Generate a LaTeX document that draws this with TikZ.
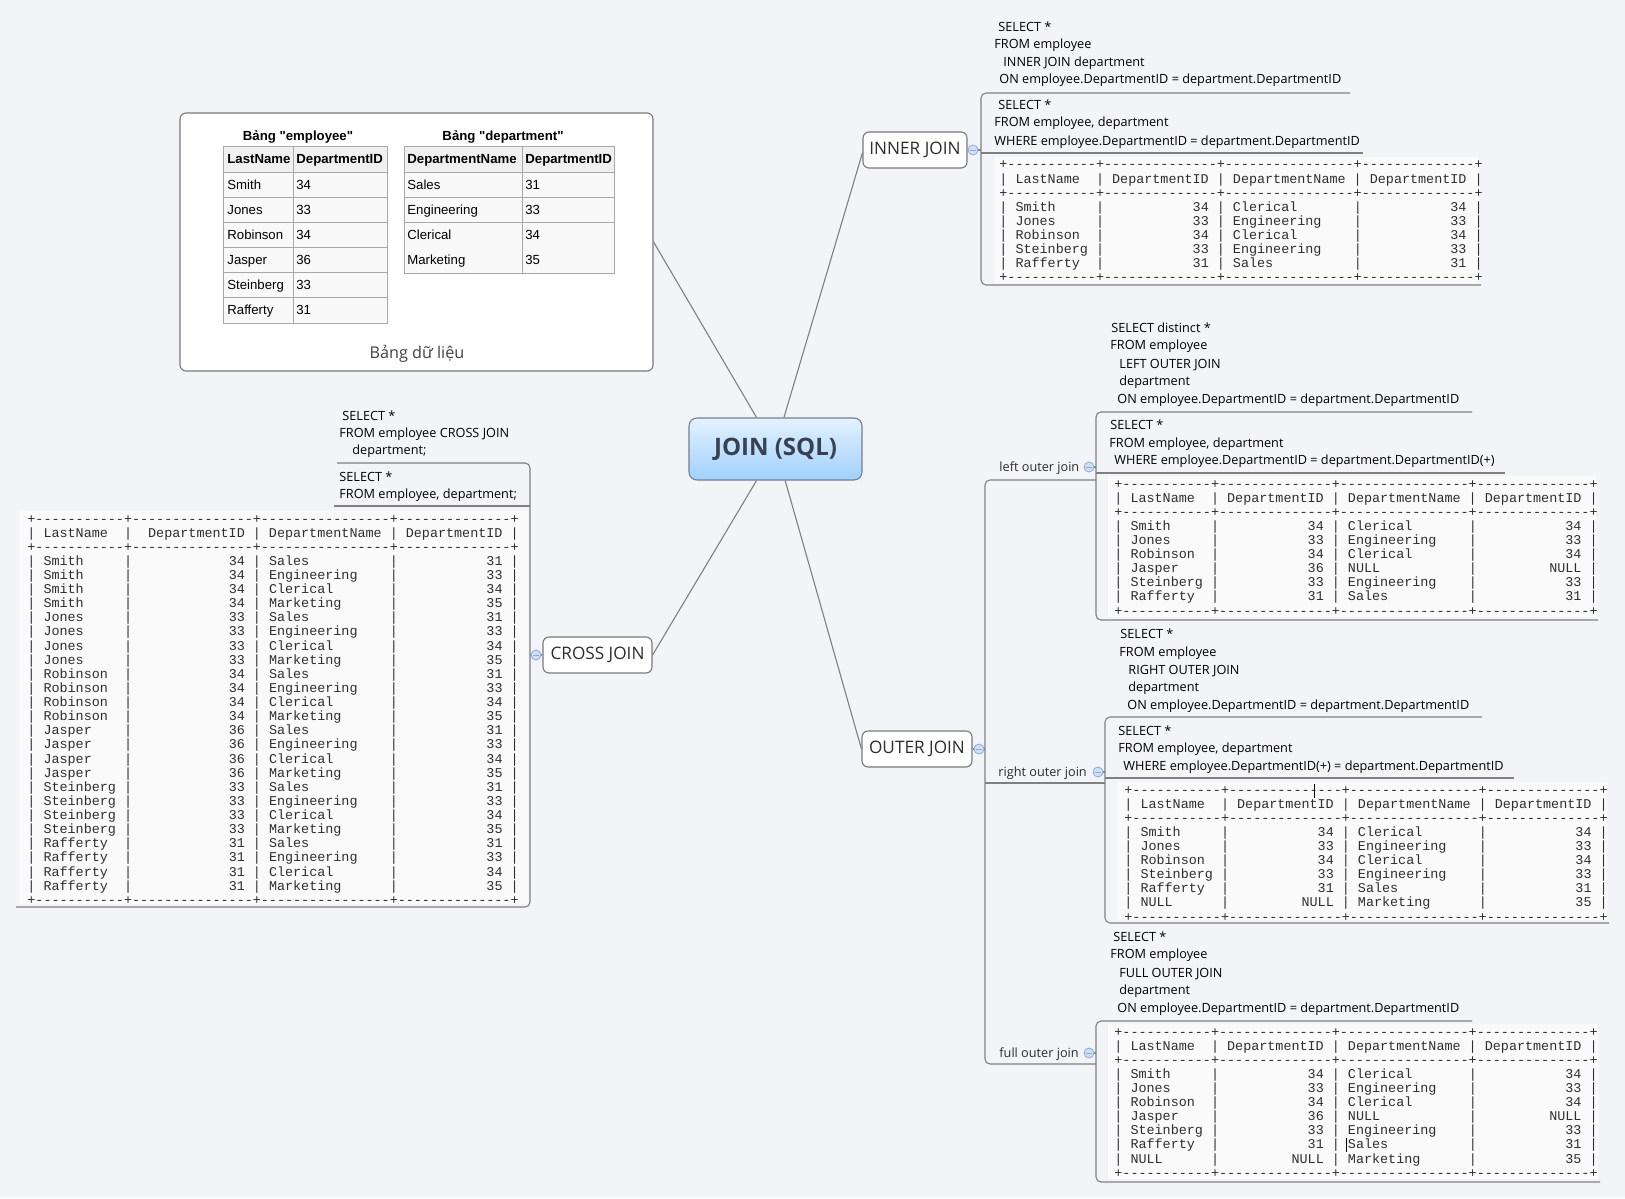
\documentclass[tikz,border=0pt]{standalone}
\usepackage{fontspec}
\setmainfont{Open Sans}
\newfontfamily\arialf{Liberation Sans}[Ligatures=TeXOff]
\newfontfamily\monof{Liberation Mono}[Ligatures=TeXOff]
\definecolor{bgc}{RGB}{242,244,248}
\definecolor{linegray}{RGB}{128,128,128}
\definecolor{boxgray}{RGB}{120,120,120}
\definecolor{txt}{RGB}{45,45,45}
\definecolor{cfill}{RGB}{208,224,244}
\definecolor{cdraw}{RGB}{140,172,214}
\definecolor{jtop}{RGB}{228,242,255}
\definecolor{jbot}{RGB}{160,208,252}
\definecolor{jdraw}{RGB}{110,128,150}
\definecolor{jtext}{RGB}{55,65,80}
\definecolor{tabbgc}{RGB}{250,250,250}
\definecolor{thfill}{RGB}{240,240,240}
\definecolor{tdfill}{RGB}{249,249,249}
\definecolor{cellline}{RGB}{168,168,168}
\newcommand\sqlfont{\fontsize{6.35pt}{7.5pt}\selectfont}
\newcommand\tblfont{\monof\fontsize{6.71pt}{7pt}\selectfont}
\newcommand\cellfont{\arialf\fontsize{6.6pt}{8pt}\selectfont}
\newlength\cw
\setlength\cw{4.027pt}
\newcount\dcnt
\newcommand\dashes[1]{\dcnt=#1\relax\loop\makebox[\cw]{-}\advance\dcnt by -1\relax\ifnum\dcnt>0 \repeat}
\newcommand\tabsep{\makebox[\cw]{+}\dashes{\colA}\makebox[\cw]{+}\dashes{\colB}\makebox[\cw]{+}\dashes{\colC}\makebox[\cw]{+}\dashes{\colD}\makebox[\cw]{+}}
\newcommand\tabrow[4]{\makebox[\cw]{|}\makebox[\colA\cw][l]{\hspace*{\cw}#1}\makebox[\cw]{|}\makebox[\colB\cw][r]{#2\hspace*{\cw}}\makebox[\cw]{|}\makebox[\colC\cw][l]{\hspace*{\cw}#3}\makebox[\cw]{|}\makebox[\colD\cw][r]{#4\hspace*{\cw}}\makebox[\cw]{|}}
\newcommand\hdr{\tabrow{LastName}{DepartmentID}{DepartmentName}{DepartmentID}}
\newcommand\asciitab[4]{\foreach \rowtxt [count=\ri from 0] in {#4}{\node[tline] (#1-\ri) at (#2,{#3+\ri*14.12+5}) {\rowtxt};}}
\newcommand\sqlblock[2]{\foreach \sx/\sy/\st [count=\si] in {#2}{\node[sql] (#1-\si) at (\sx,\sy+4) {\st};}}
\tikzset{
 conn/.style={draw=linegray, line width=0.55pt},
 rc/.style={conn, rounded corners=2.5pt},
 topic/.style={draw=boxgray, fill=white, rounded corners=3pt, line width=0.55pt, text=txt, font=\fontsize{8.6pt}{10pt}\selectfont, inner sep=0pt, minimum height=18pt},
 sql/.style={anchor=base west, inner sep=0pt, text=black, font=\sqlfont},
 lbl/.style={anchor=base west, inner sep=0pt, text=txt, font=\sqlfont},
 tline/.style={anchor=base west, inner sep=0pt, text=black!82, font=\tblfont},
 collapse/.style={circle, draw=cdraw, fill=cfill, minimum size=5pt, inner sep=0pt, line width=0.4pt},
 tabbox/.style={fill=tabbgc, draw=none},
 cell/.style={anchor=base west, inner sep=0pt, text=black, font=\cellfont},
 cellh/.style={cell, font=\cellfont\bfseries},
 cellgrid/.style={draw=cellline, line width=0.5pt},
}
\begin{document}
\begin{tikzpicture}[x=0.5pt,y=-0.5pt]
\fill[bgc] (0,0) rectangle (1625,1198);
\useasboundingbox (0,0) rectangle (1625,1198);

% ---------- main nodes ----------
\node[draw=boxgray, fill=white, rounded corners=3pt, line width=0.55pt, minimum width=236.5pt, minimum height=129pt] (data) at (416.5,242) {};
\node[draw=jdraw, top color=jtop, bottom color=jbot, rounded corners=4pt, minimum width=86.5pt, minimum height=31pt, font=\bfseries\fontsize{12pt}{14pt}\selectfont, text=jtext, line width=0.55pt] (join) at (775.5,449) {JOIN (SQL)};
\node[topic, minimum width=52pt] (inner) at (915,150) {INNER JOIN};
\node[topic, minimum width=54.5pt] (cross) at (597.5,655) {CROSS JOIN};
\node[topic, minimum width=55pt] (outer) at (917,749) {OUTER JOIN};

% ---------- connectors from centre ----------
\draw[conn] (join.121) -- (data.east);
\draw[conn] (join.75) -- (inner.183);
\draw[conn] (join.-121) -- (cross.east);
\draw[conn] (join.-73) -- (outer.west);

% ---------- data box content ----------
\node[cellh, anchor=base] (etitle) at (298,140.5) {Bảng "employee"};
\node[cellh, anchor=base] (dtitle) at (503,140.5) {Bảng "department"};
\fill[thfill] (223,147) rectangle (387,172);
\fill[tdfill] (223,172) rectangle (387,323);
\draw[cellgrid] (223,147) rectangle (387,323);
\draw[cellgrid] (293,147) -- (293,323);
\foreach \i in {1,...,6} \draw[cellgrid] (223,{147+\i*25.1}) -- (387,{147+\i*25.1});
\node[cellh] (eh1) at (227,164) {LastName};
\node[cellh] (eh2) at (296,164) {DepartmentID};
\foreach \a/\b [count=\i] in {Smith/34,Jones/33,Robinson/34,Jasper/36,Steinberg/33,Rafferty/31}{
  \node[cell] (e\i a) at (227,{147+(\i+0.5)*25.1+4.5}) {\a};
  \node[cell] (e\i b) at (296,{147+(\i+0.5)*25.1+4.5}) {\b};}
\fill[thfill] (404,147) rectangle (614,172);
\fill[tdfill] (404,172) rectangle (614,273);
\draw[cellgrid] (404,147) rectangle (614,273);
\draw[cellgrid] (522,147) -- (522,273);
\foreach \i in {1,...,3} \draw[cellgrid] (404,{147+\i*25.1}) -- (614,{147+\i*25.1});
\node[cellh] (dh1) at (407,164) {DepartmentName};
\node[cellh] (dh2) at (525,164) {DepartmentID};
\foreach \a/\b [count=\i] in {Sales/31,Engineering/33,Clerical/34,Marketing/35}{
  \node[cell] (d\i a) at (407,{147+(\i+0.5)*25.1+4.5}) {\a};
  \node[cell] (d\i b) at (525,{147+(\i+0.5)*25.1+4.5}) {\b};}
\node[text=txt!90, font=\fontsize{8.1pt}{9pt}\selectfont, anchor=base, inner sep=0pt] (datacap) at (417,358) {Bảng dữ liệu};

% ---------- INNER JOIN branch ----------
\draw[rc] (1350,93) -| (981,285) -- (1481,285);
\draw[conn] (981,153) -- (1363,153);
\draw[conn] (inner.east) -- (981,150);
\sqlblock{ia}{998/28/{SELECT *},994/45/{FROM employee},1003/63/{INNER JOIN department},999/80/{ON employee.DepartmentID = department.DepartmentID}}
\sqlblock{ib}{998/106/{SELECT *},994/123/{FROM employee, department},994/142/{WHERE employee.DepartmentID = department.DepartmentID}}
\fill[tabbox] (994,157) rectangle (1479,283);
\def\colA{11}\def\colB{14}\def\colC{16}\def\colD{14}
\asciitab{it}{999}{164}{\tabsep,\hdr,\tabsep,\tabrow{Smith}{34}{Clerical}{34},\tabrow{Jones}{33}{Engineering}{33},\tabrow{Robinson}{34}{Clerical}{34},\tabrow{Steinberg}{33}{Engineering}{33},\tabrow{Rafferty}{31}{Sales}{31},\tabsep}
\node[collapse] (ic) at (973,150) {\color{cdraw}\rule{2.6pt}{0.45pt}};

% ---------- CROSS JOIN branch ----------
\draw[rc] (337,463) -| (530,907) -- (16,907);
\draw[conn] (334,506) -- (530,506);
\draw[conn] (cross.west) -- (530,655);
\sqlblock{ca}{342/416/{SELECT *},339/433/{FROM employee CROSS JOIN},352/450/{department;}}
\sqlblock{cb}{339/477/{SELECT *},339/494/{FROM employee, department;}}
\fill[tabbox] (19,511) rectangle (528,904);
\def\colA{11}\def\colB{15}\def\colC{16}\def\colD{14}
\node[tline] (ct-t) at (27,523) {\tabsep};
\node[tline] (ct-h) at (27,{518+14.12+5}) {\hdr};
\node[tline] (ct-s) at (27,{518+2*14.12+5}) {\tabsep};
\foreach \nm/\id [count=\a from 0] in {Smith/34,Jones/33,Robinson/34,Jasper/36,Steinberg/33,Rafferty/31}
  \foreach \dn/\did [count=\b from 0] in {Sales/31,Engineering/33,Clerical/34,Marketing/35}
    \node[tline] (ct-\a-\b) at (27,{518+(3+4*\a+\b)*14.12+5}) {\tabrow{\nm}{\id}{\dn}{\did}};
\node[tline] (ct-b) at (27,{518+27*14.12+5}) {\tabsep};
\node[collapse] (cc) at (536,655) {\color{cdraw}\rule{2.6pt}{0.45pt}};

% ---------- OUTER JOIN branch ----------
\draw[rc] (1096,480) -| (985,1064) -- (1096,1064);
\draw[conn] (985,783) -- (1105,783);
\draw[conn] (outer.east) -- (985,749);
\node[lbl] (loj) at (999,471) {left outer join};
\node[lbl] (roj) at (998,776) {right outer join};
\node[lbl] (foj) at (999,1057) {full outer join};
\def\colA{11}\def\colB{14}\def\colC{16}\def\colD{14}
% left outer join
\draw[rc] (1472,412) -| (1096,620) -- (1598,620);
\draw[conn] (1096,473) -- (1505,473);
\draw[conn] (1089,467) -- (1096,467);
\sqlblock{la}{1111/328/{SELECT distinct *},1110/345/{FROM employee},1119/364/{LEFT OUTER JOIN},1119/381/{department},1117/399/{ON employee.DepartmentID = department.DepartmentID}}
\sqlblock{lb}{1110/425/{SELECT *},1109/443/{FROM employee, department},1114/460/{WHERE employee.DepartmentID = department.DepartmentID(+)}}
\fill[tabbox] (1108,476) rectangle (1596,617);
\asciitab{lt}{1114}{483}{\tabsep,\hdr,\tabsep,\tabrow{Smith}{34}{Clerical}{34},\tabrow{Jones}{33}{Engineering}{33},\tabrow{Robinson}{34}{Clerical}{34},\tabrow{Jasper}{36}{NULL}{NULL},\tabrow{Steinberg}{33}{Engineering}{33},\tabrow{Rafferty}{31}{Sales}{31},\tabsep}
% right outer join
\draw[rc] (1482,717) -| (1105,923) -- (1609,923);
\draw[conn] (1105,778) -- (1514,778);
\draw[conn] (1098,772) -- (1105,772);
\sqlblock{ra}{1120/634/{SELECT *},1119/652/{FROM employee},1128/670/{RIGHT OUTER JOIN},1128/687/{department},1127/705/{ON employee.DepartmentID = department.DepartmentID}}
\sqlblock{rb}{1118/731/{SELECT *},1118/748/{FROM employee, department},1123/766/{WHERE employee.DepartmentID(+) = department.DepartmentID}}
\fill[tabbox] (1118,782) rectangle (1607,920);
\asciitab{rt}{1124}{789}{\tabsep,\hdr,\tabsep,\tabrow{Smith}{34}{Clerical}{34},\tabrow{Jones}{33}{Engineering}{33},\tabrow{Robinson}{34}{Clerical}{34},\tabrow{Steinberg}{33}{Engineering}{33},\tabrow{Rafferty}{31}{Sales}{31},\tabrow{NULL}{NULL}{Marketing}{35},\tabsep}
\draw[black, line width=0.5pt] (1314,784) -- (1314,798);
% full outer join
\draw[rc] (1472,1021) -| (1096,1182) -- (1600,1182);
\draw[conn] (1089,1053) -- (1096,1053);
\sqlblock{fa}{1113/937/{SELECT *},1110/954/{FROM employee},1119/973/{FULL OUTER JOIN},1119/990/{department},1117/1008/{ON employee.DepartmentID = department.DepartmentID}}
\fill[tabbox] (1108,1024) rectangle (1598,1179);
\asciitab{ft}{1114}{1031}{\tabsep,\hdr,\tabsep,\tabrow{Smith}{34}{Clerical}{34},\tabrow{Jones}{33}{Engineering}{33},\tabrow{Robinson}{34}{Clerical}{34},\tabrow{Jasper}{36}{NULL}{NULL},\tabrow{Steinberg}{33}{Engineering}{33},\tabrow{Rafferty}{31}{Sales}{31},\tabrow{NULL}{NULL}{Marketing}{35},\tabsep}
\draw[black, line width=0.5pt] (1346,1138) -- (1346,1152);

\node[collapse] (oc) at (979,749) {\color{cdraw}\rule{2.6pt}{0.45pt}};
\node[collapse] (lc) at (1089,467) {\color{cdraw}\rule{2.6pt}{0.45pt}};
\node[collapse] (rcn) at (1098,772) {\color{cdraw}\rule{2.6pt}{0.45pt}};
\node[collapse] (fc) at (1089,1053) {\color{cdraw}\rule{2.6pt}{0.45pt}};
\end{tikzpicture}
\end{document}
